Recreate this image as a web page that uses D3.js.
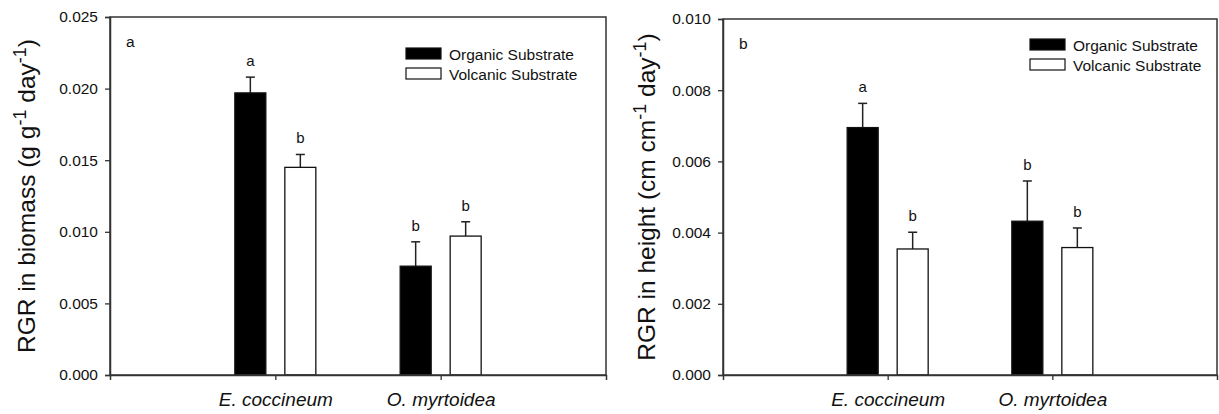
<!DOCTYPE html>
<html>
<head>
<meta charset="utf-8">
<script src="https://cdn.jsdelivr.net/npm/d3@7"></script>
<style>
  html, body { margin: 0; padding: 0; background: #fff; }
  svg { display: block; }
  text { font-family: "Liberation Sans", Arial, sans-serif; fill: #111; }
</style>
</head>
<body>
<svg id="chart" width="1219" height="414"></svg>
<script>
// ---------- data ----------
const categories = ["E. coccineum", "O. myrtoidea"];
const seriesNames = ["Organic Substrate", "Volcanic Substrate"];

const biomassOrganic = [0.0197, 0.0076];
const biomassVolcanic = [0.0145, 0.0097];
const biomassOrganicErr = [0.0011, 0.0017];
const biomassVolcanicErr = [0.0009, 0.0010];
const biomassOrganicLetters = ["a", "b"];
const biomassVolcanicLetters = ["b", "b"];
const biomassTicks = [0, 0.005, 0.010, 0.015, 0.020, 0.025];

const heightOrganic = [0.00695, 0.00432];
const heightVolcanic = [0.00354, 0.00358];
const heightOrganicErr = [0.00068, 0.00113];
const heightVolcanicErr = [0.00047, 0.00055];
const heightOrganicLetters = ["a", "b"];
const heightVolcanicLetters = ["b", "b"];
const heightTicks = [0, 0.002, 0.004, 0.006, 0.008, 0.010];

// ---------- layout ----------
const svg = d3.select("#chart");
const fills = ["#000", "#fff"];

function panel(cfg) {
  const { left, right, top, bottom, ticks, titleParts, means, errs, letters, panelLabel, legend, titleX } = cfg;
  const g = svg.append("g");
  const x = d3.scalePoint().domain(categories).range([left, right]).padding(1);
  const xs = d3.scaleBand().domain(seriesNames).range([-40.5, 40.5]).paddingInner(0.38);
  const y = d3.scaleLinear().domain([ticks[0], ticks[ticks.length - 1]]).range([bottom, top]);

  // bars
  seriesNames.forEach((s, si) => {
    categories.forEach((c, ci) => {
      const v = means[si][ci], e = errs[si][ci];
      const bx = x(c) + xs(s);
      const bw = xs.bandwidth();
      const cx = bx + bw / 2;
      g.append("line").attr("x1", cx).attr("x2", cx).attr("y1", y(v)).attr("y2", y(v + e))
        .attr("stroke", "#222").attr("stroke-width", 1.5);
      g.append("line").attr("x1", cx - 4.5).attr("x2", cx + 4.5).attr("y1", y(v + e)).attr("y2", y(v + e))
        .attr("stroke", "#222").attr("stroke-width", 1.5);
      g.append("rect").attr("x", bx).attr("y", y(v)).attr("width", bw).attr("height", y(0) - y(v))
        .attr("fill", fills[si]).attr("stroke", "#111").attr("stroke-width", 1.3);
      g.append("text").attr("x", cx).attr("y", y(v + e) - 11).attr("text-anchor", "middle")
        .attr("font-size", 15).text(letters[si][ci]);
    });
  });

  // frame
  g.append("rect").attr("x", left).attr("y", top).attr("width", right - left).attr("height", bottom - top)
    .attr("fill", "none").attr("stroke", "#333").attr("stroke-width", 1.5);

  // y axis
  const ya = g.append("g").attr("transform", `translate(${left},0)`)
    .call(d3.axisLeft(y).tickValues(ticks).tickFormat(d3.format(".3f")).tickSize(5).tickPadding(7));
  ya.select(".domain").attr("stroke", "#333").attr("stroke-width", 1.5);
  ya.selectAll(".tick line").attr("stroke", "#333").attr("stroke-width", 1.3);
  ya.selectAll(".tick text").attr("font-size", 15.5).attr("font-family", "Liberation Sans, Arial, sans-serif").attr("fill", "#111");

  // x axis
  const xa = g.append("g").attr("transform", `translate(0,${bottom})`)
    .call(d3.axisBottom(x).tickSize(5).tickPadding(13));
  xa.select(".domain").attr("stroke", "#333").attr("stroke-width", 1.5);
  xa.selectAll(".tick line").attr("stroke", "#333").attr("stroke-width", 1.3);
  xa.selectAll(".tick text").attr("font-size", 19).attr("font-style", "italic")
    .attr("font-family", "Liberation Sans, Arial, sans-serif").attr("fill", "#111");

  // y title
  const t = g.append("text")
    .attr("transform", `translate(${titleX},${(top + bottom) / 2}) rotate(-90)`)
    .attr("text-anchor", "middle").attr("font-size", 24.5);
  titleParts.forEach(p => {
    if (p.sup) {
      t.append("tspan").attr("dy", -9).attr("font-size", 18).text(p.t);
    } else {
      t.append("tspan").attr("dy", p.after ? 9 : 0).text(p.t);
    }
  });

  // panel label
  g.append("text").attr("x", left + 16).attr("y", top + 30).attr("font-size", 15.5).text(panelLabel);

  // legend
  seriesNames.forEach((s, si) => {
    const ly = top + legend.dy + si * legend.gap;
    g.append("rect").attr("x", right - legend.dx).attr("y", ly).attr("width", 35).attr("height", 11)
      .attr("fill", fills[si]).attr("stroke", "#111").attr("stroke-width", 1.2);
    g.append("text").attr("x", right - legend.dx + 43).attr("y", ly + 11.5).attr("font-size", 15.5).text(s);
  });
}

panel({
  left: 110, right: 606, top: 17, bottom: 375,
  ticks: biomassTicks,
  titleX: 35,
  titleParts: [{t: "RGR in biomass (g g"}, {t: "-1", sup: true}, {t: " day", after: true}, {t: "-1", sup: true}, {t: ")", after: true}],
  means: [biomassOrganic, biomassVolcanic],
  errs: [biomassOrganicErr, biomassVolcanicErr],
  letters: [biomassOrganicLetters, biomassVolcanicLetters],
  panelLabel: "a",
  legend: { dx: 200, dy: 31, gap: 20 }
});

panel({
  left: 723, right: 1217, top: 19, bottom: 375,
  ticks: heightTicks,
  titleX: 655,
  titleParts: [{t: "RGR in height (cm cm"}, {t: "-1", sup: true}, {t: " day", after: true}, {t: "-1", sup: true}, {t: ")", after: true}],
  means: [heightOrganic, heightVolcanic],
  errs: [heightOrganicErr, heightVolcanicErr],
  letters: [heightOrganicLetters, heightVolcanicLetters],
  panelLabel: "b",
  legend: { dx: 187, dy: 20, gap: 20 }
});
</script>
</body>
</html>
